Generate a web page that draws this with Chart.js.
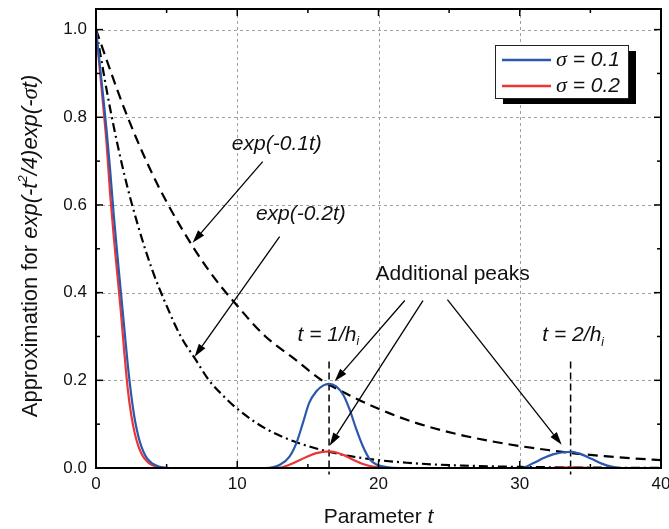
<!DOCTYPE html>
<html>
<head>
<meta charset="utf-8">
<script src="https://cdn.jsdelivr.net/npm/chart.js@4.4.0/dist/chart.umd.min.js"></script>
<style>
    html, body { margin: 0; padding: 0; background: #fff; }
    #canvas { width: 669px; height: 529px; position: relative; }
</style>
</head>
<body>
<div id="canvas"><canvas id="graph"></canvas></div>
<script>
// values
const blueT = [0, 0.25, 0.5, 0.75, 1.0, 1.25, 1.5, 1.75, 2.0, 2.25, 2.5, 2.75, 3.0, 3.25, 3.5, 3.75, 4.0, 4.5, 5.0, 5.5,
    8, 12, 13.05, 13.7, 14.2, 14.65, 15.1, 15.6, 16.07, 16.5, 17.0, 17.5, 17.96, 18.4, 18.9, 19.4, 19.85, 20.56, 21.5, 25,
    30.1, 30.9, 31.65, 32.35, 33.06, 33.66, 34.37, 35.08, 35.8, 36.5, 37.1, 40];
const blueV = [1.0, 0.925, 0.85, 0.77, 0.68, 0.58, 0.49, 0.405, 0.32, 0.235, 0.165, 0.11, 0.072, 0.046, 0.028, 0.017, 0.01, 0.003, 0.0005, 0,
    0, 0, 0.008, 0.026, 0.058, 0.103, 0.149, 0.175, 0.188, 0.192, 0.186, 0.167, 0.133, 0.091, 0.049, 0.019, 0.008, 0.002, 0, 0,
    0, 0.01, 0.022, 0.031, 0.036, 0.037, 0.031, 0.021, 0.01, 0.003, 0, 0];

const redT = [0, 0.25, 0.5, 0.75, 1.0, 1.25, 1.5, 1.75, 2.0, 2.25, 2.5, 2.75, 3.0, 3.25, 3.5, 3.75, 4.0, 4.5, 5.0,
    8, 12, 13.05, 13.95, 14.9, 15.6, 16.5, 17.5, 18.2, 18.9, 19.6, 20.5, 25, 32, 33.6, 35, 40];
const redV = [1.0, 0.915, 0.83, 0.74, 0.625, 0.53, 0.445, 0.36, 0.265, 0.18, 0.12, 0.078, 0.05, 0.031, 0.019, 0.011, 0.006, 0.0015, 0,
    0, 0, 0.001, 0.011, 0.025, 0.034, 0.038, 0.030, 0.019, 0.009, 0.003, 0, 0, 0, 0.0015, 0, 0];

const exp1T = [0, 2, 4, 6, 8, 10, 12, 14, 16, 18, 20, 22, 24, 26, 28, 30, 32, 34, 36, 38, 40];
const exp1V = [1.0, 0.82, 0.67, 0.55, 0.45, 0.37, 0.30, 0.25, 0.20, 0.165, 0.135, 0.11, 0.09, 0.074, 0.061, 0.05, 0.041, 0.033, 0.027, 0.022, 0.018];

const exp2T = [0, 1, 2, 3, 4, 5, 6, 7, 8, 9, 10, 12, 14, 16, 18, 20, 22, 24, 26, 28, 30, 33, 36, 40];
const exp2V = [1.0, 0.82, 0.67, 0.55, 0.45, 0.37, 0.30, 0.25, 0.20, 0.165, 0.135, 0.09, 0.061, 0.041, 0.027, 0.018, 0.012, 0.008, 0.0055, 0.0037, 0.0025, 0.0014, 0.0007, 0.0003];

const peakT = [16.5, 33.6];
const peakLineTop = 0.243;
const peakLineBottom = -0.015;

const xTicks = [0, 10, 20, 30, 40];
const xMinor = [5, 15, 25, 35];
const yTicks = [0, 0.2, 0.4, 0.6, 0.8, 1.0];
const yMinor = [0.1, 0.3, 0.5, 0.7, 0.9];

const seriesNames = ['\u03c3 = 0.1', '\u03c3 = 0.2'];

// arrows: from (t, v) to (t, v)
const arrows = [
    [11.8, 0.699, 6.84, 0.514],
    [13.0, 0.528, 6.98, 0.254],
    [21.86, 0.382, 16.9, 0.198],
    [23.15, 0.382, 16.54, 0.051],
    [24.88, 0.384, 32.97, 0.053]
];

const SANS = '"Liberation Sans", Arial, sans-serif';
const REG = '21px ' + SANS;
const IT = 'italic 21px ' + SANS;
const SUB = 'italic 12px ' + SANS;
const SIG = 'italic 22px "Liberation Serif", serif';

const notes = [
    {t: 12.8, v: 0.738, align: 'center', runs: [['exp(-0.1t)', IT]]},
    {t: 14.5, v: 0.578, align: 'center', runs: [['exp(-0.2t)', IT]]},
    {t: 25.25, v: 0.441, align: 'center', runs: [['Additional peaks', REG]]},
    {t: 14.27, v: 0.304, align: 'left', runs: [['t = 1/h', IT], ['i', SUB, 7]]},
    {t: 31.6, v: 0.302, align: 'left', runs: [['t = 2/h', IT], ['i', SUB, 7]]}
];

const BLUE = '#2b58ad';
const RED = '#ec3535';

function pts(ts, vs) {
    return ts.map((t, i) => ({x: t, y: vs[i]}));
}

function drawRuns(ctx, runs, x, y, align)
{
    let w = 0;
    runs.forEach(r => { ctx.font = r[1]; w += ctx.measureText(r[0]).width; });
    let cx = align === 'center' ? x - w / 2 : x;
    ctx.textAlign = 'left';
    ctx.textBaseline = 'middle';
    runs.forEach(r => {
        ctx.font = r[1];
        ctx.fillText(r[0], cx, y + (r[2] || 0));
        cx += ctx.measureText(r[0]).width;
    });
}

function arrow(ctx, x0, y0, x1, y1)
{
    const ang = Math.atan2(y1 - y0, x1 - x0);
    const len = 13, half = 4;
    const bx = x1 - len * Math.cos(ang), by = y1 - len * Math.sin(ang);
    ctx.beginPath();
    ctx.moveTo(x0, y0);
    ctx.lineTo(bx, by);
    ctx.stroke();
    ctx.beginPath();
    ctx.moveTo(x1, y1);
    ctx.lineTo(bx + half * Math.sin(ang), by - half * Math.cos(ang));
    ctx.lineTo(bx - half * Math.sin(ang), by + half * Math.cos(ang));
    ctx.closePath();
    ctx.fill();
}

const decor = {
    id: 'decor',
    beforeDatasetsDraw(chart) {
        const {ctx, chartArea: a, scales: {x, y}} = chart;
        ctx.save();
        ctx.strokeStyle = '#a0a0a0';
        ctx.lineWidth = 1;
        ctx.setLineDash([3, 3]);
        xTicks.forEach(v => {
            const px = Math.round(x.getPixelForValue(v)) + 0.5;
            ctx.beginPath(); ctx.moveTo(px, a.top); ctx.lineTo(px, a.bottom); ctx.stroke();
        });
        yTicks.forEach(v => {
            const py = Math.round(y.getPixelForValue(v)) + 0.5;
            ctx.beginPath(); ctx.moveTo(a.left, py); ctx.lineTo(a.right, py); ctx.stroke();
        });
        ctx.restore();
    },
    afterDatasetsDraw(chart) {
        const {ctx, chartArea: a, scales: {x, y}} = chart;
        ctx.save();

        // frame and inward ticks
        ctx.strokeStyle = '#000';
        ctx.lineWidth = 2;
        ctx.strokeRect(a.left, a.top, a.right - a.left, a.bottom - a.top);
        ctx.lineWidth = 1.5;
        const tick = (vals, len) => {
            vals.forEach(v => {
                const px = x.getPixelForValue(v);
                ctx.beginPath(); ctx.moveTo(px, a.bottom); ctx.lineTo(px, a.bottom - len); ctx.stroke();
                ctx.beginPath(); ctx.moveTo(px, a.top); ctx.lineTo(px, a.top + len); ctx.stroke();
            });
        };
        const tickY = (vals, len) => {
            vals.forEach(v => {
                const py = y.getPixelForValue(v);
                ctx.beginPath(); ctx.moveTo(a.left, py); ctx.lineTo(a.left + len, py); ctx.stroke();
                ctx.beginPath(); ctx.moveTo(a.right, py); ctx.lineTo(a.right - len, py); ctx.stroke();
            });
        };
        tick(xTicks, 7); tick(xMinor, 4);
        tickY(yTicks, 7); tickY(yMinor, 4);

        // arrows
        ctx.fillStyle = '#000';
        ctx.lineWidth = 1.3;
        arrows.forEach(r => {
            arrow(ctx, x.getPixelForValue(r[0]), y.getPixelForValue(r[1]),
                x.getPixelForValue(r[2]), y.getPixelForValue(r[3]));
        });

        // text notes
        ctx.fillStyle = '#111';
        notes.forEach(n => {
            drawRuns(ctx, n.runs, x.getPixelForValue(n.t), y.getPixelForValue(n.v), n.align);
        });

        // axis titles
        drawRuns(ctx, [['Parameter ', REG], ['t', IT]], (a.left + a.right) / 2, 517, 'center');
        ctx.save();
        ctx.translate(31, 246);
        ctx.rotate(-Math.PI / 2);
        drawRuns(ctx, [['Approximation for ', '22px ' + SANS], ['exp(-t', 'italic 22px ' + SANS], ['2', 'italic 13px ' + SANS, -8],
            ['/4)exp(-', 'italic 22px ' + SANS], ['\u03c3', 'italic 23px "Liberation Serif", serif'], ['t)', 'italic 22px ' + SANS]], 0, 0, 'center');
        ctx.restore();

        // legend box with shadow
        const bx = a.right - 166, by = a.top + 36, bw = 133, bh = 53;
        ctx.fillStyle = '#000';
        ctx.fillRect(bx + 8, by + 6, bw, bh);
        ctx.fillStyle = '#fff';
        ctx.fillRect(bx, by, bw, bh);
        ctx.strokeStyle = '#222';
        ctx.lineWidth = 1;
        ctx.strokeRect(bx + 0.5, by + 0.5, bw, bh);
        [BLUE, RED].forEach((c, i) => {
            const ly = by + 15 + i * 26;
            ctx.strokeStyle = c;
            ctx.lineWidth = 2.5;
            ctx.beginPath(); ctx.moveTo(bx + 7, ly); ctx.lineTo(bx + 56, ly); ctx.stroke();
            ctx.fillStyle = '#111';
            drawRuns(ctx, [[seriesNames[i].charAt(0), SIG], [seriesNames[i].slice(1), IT]], bx + 61, ly, 'left');
        });

        ctx.restore();
    }
};

const lineStyle = {showLine: true, pointRadius: 0, cubicInterpolationMode: 'monotone', fill: false};

const ctx = document.getElementById('graph');

const myChart = new Chart(ctx, {
    type: 'scatter',
    data: {
        datasets: [
            Object.assign({label: seriesNames[0], data: pts(blueT, blueV), borderColor: BLUE, borderWidth: 2.2}, lineStyle),
            Object.assign({label: seriesNames[1], data: pts(redT, redV), borderColor: RED, borderWidth: 2.2}, lineStyle),
            Object.assign({label: 'exp(-0.1t)', data: pts(exp1T, exp1V), borderColor: '#000', borderWidth: 2.2, borderDash: [10, 6]}, lineStyle),
            Object.assign({label: 'exp(-0.2t)', data: pts(exp2T, exp2V), borderColor: '#000', borderWidth: 2.2, borderDash: [9, 4, 2, 4]}, lineStyle),
            {label: 'peak1', data: [{x: peakT[0], y: peakLineTop}, {x: peakT[0], y: peakLineBottom}], showLine: true, pointRadius: 0,
                borderColor: '#000', borderWidth: 1.5, borderDash: [7, 4], clip: false},
            {label: 'peak2', data: [{x: peakT[1], y: peakLineTop}, {x: peakT[1], y: peakLineBottom}], showLine: true, pointRadius: 0,
                borderColor: '#000', borderWidth: 1.5, borderDash: [7, 4], clip: false}
        ]
    },
    options: {
        responsive: true,
        maintainAspectRatio: false,
        devicePixelRatio: 1,
        animation: false,
        layout: {padding: {left: 0, top: 9, right: 8, bottom: 0}},
        plugins: {
            legend: {display: false},
            tooltip: {enabled: false}
        },
        scales: {
            x: {
                type: 'linear',
                min: 0,
                max: 40,
                grid: {display: false, drawTicks: false, tickLength: 0},
                border: {display: false},
                ticks: {
                    autoSkip: false,
                    maxRotation: 0,
                    padding: 6,
                    color: '#111',
                    font: {family: SANS, size: 17},
                    callback: v => String(v)
                },
                afterBuildTicks: s => { s.ticks = xTicks.map(v => ({value: v})); },
                afterFit: s => { s.height = 61; s.paddingLeft = 0; s.paddingRight = 0; }
            },
            y: {
                type: 'linear',
                min: 0,
                max: 1.047,
                grid: {display: false, drawTicks: false, tickLength: 0},
                border: {display: false},
                ticks: {
                    padding: 9,
                    color: '#111',
                    font: {family: SANS, size: 17},
                    callback: v => Number(v).toFixed(1)
                },
                afterBuildTicks: s => { s.ticks = yTicks.map(v => ({value: v})); },
                afterFit: s => { s.width = 96; s.paddingTop = 0; s.paddingBottom = 0; }
            }
        }
    },
    plugins: [decor]
});
</script>
</body>
</html>
